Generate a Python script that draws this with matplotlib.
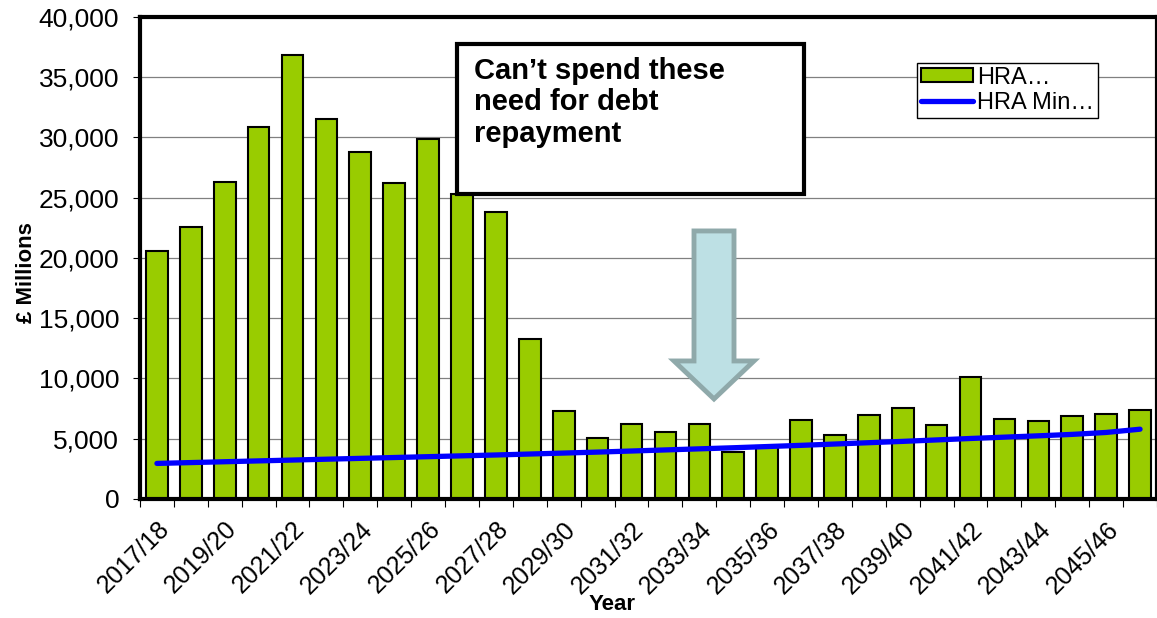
import matplotlib
matplotlib.use("Agg")
import matplotlib.pyplot as plt
from matplotlib.patches import Rectangle, Polygon, Patch
from matplotlib.lines import Line2D
import numpy as np

plt.rcParams['font.family'] = ['Liberation Sans', 'DejaVu Sans']

# Data
years = ["2017/18", "2018/19", "2019/20", "2020/21", "2021/22", "2022/23",
         "2023/24", "2024/25", "2025/26", "2026/27", "2027/28", "2028/29",
         "2029/30", "2030/31", "2031/32", "2032/33", "2033/34", "2034/35",
         "2035/36", "2036/37", "2037/38", "2038/39", "2039/40", "2040/41",
         "2041/42", "2042/43", "2043/44", "2044/45", "2045/46", "2046/47"]
hra_balance = [20550, 22600, 26300, 30900, 36800, 31500, 28800, 26200, 29900, 25300,
               23800, 13300, 7330, 5090, 6250, 5590, 6230, 3930, 4400, 6560,
               5320, 6980, 7560, 6120, 10160, 6640, 6500, 6920, 7090, 7390]
hra_minimum = [2950, 3020, 3090, 3160, 3230, 3300, 3370, 3440, 3510, 3580,
               3650, 3730, 3810, 3890, 3980, 4070, 4160, 4250, 4350, 4450,
               4560, 4670, 4780, 4900, 5020, 5130, 5240, 5360, 5520, 5790]
legend_labels = ["HRA\u2026", "HRA Min\u2026"]
note_text = "Can\u2019t spend these\nneed for debt\nrepayment"

BAR_GREEN = "#99CC00"
LINE_BLUE = "#0000FF"

fig = plt.figure(figsize=(11.57, 6.18), dpi=100)
ax = fig.add_axes([0.121, 0.1926, 0.879, 0.78])

x = np.arange(len(years))
ax.bar(x, hra_balance, width=0.64, color=BAR_GREEN, edgecolor="black",
       linewidth=1.5, zorder=2)
ax.plot(x, hra_minimum, color=LINE_BLUE, linewidth=3.8, solid_capstyle="round",
        zorder=3)

ax.set_xlim(-0.5, len(years) - 0.5)
ax.set_ylim(0, 40000)
ax.set_yticks(np.arange(0, 40001, 5000))
ax.set_yticklabels([f"{v:,}" for v in range(0, 40001, 5000)], fontsize=19)
ax.yaxis.grid(True, color="#808080", linewidth=0.9, zorder=0)
ax.set_axisbelow(True)

# category labels every other year, tick marks between categories
ax.set_xticks(x[::2])
ax.set_xticklabels(years[::2], rotation=45, ha="right", va="top",
                   rotation_mode="anchor", fontsize=18)
ax.tick_params(axis="x", which="major", length=0, pad=13)
ax.set_xticks(np.arange(-0.5, len(years), 1.0), minor=True)
ax.tick_params(axis="x", which="minor", length=6, width=0.8, direction="out")
ax.tick_params(axis="y", length=5, width=0.8, direction="out", pad=10)

for s in ax.spines.values():
    s.set_linewidth(3)

ax.set_xlabel("Year", fontsize=16, fontweight="bold")
ax.xaxis.label.set_va("center")
ax.xaxis.set_label_coords(0.464, -0.218)
ax.set_ylabel("\u00a3 Millions", fontsize=16, fontweight="bold")
ax.yaxis.set_label_coords(-0.1015, 0.47)

# annotation box
def px(xp, yp):
    return ((xp - 140) / 1017.0, (499 - yp) / 482.0)

bx0, by0 = px(457, 194)
bx1, by1 = px(804, 44)
ax.add_patch(Rectangle((bx0, by0), bx1 - bx0, by1 - by0, transform=ax.transAxes,
                       facecolor="white", edgecolor="black", linewidth=3,
                       zorder=5, clip_on=False))
tx, ty = px(474, 57)
ax.text(tx, ty, note_text, transform=ax.transAxes, ha="left", va="top",
        fontsize=21, fontweight="bold", linespacing=1.15, zorder=6)

# down arrow
arrow_pts = [px(694, 231), px(734, 231), px(734, 361), px(754, 361),
             px(714, 399), px(674, 361), px(694, 361)]
ax.add_patch(Polygon(arrow_pts, closed=True, transform=ax.transAxes,
                     facecolor="#BDE0E4", edgecolor="#8FA9AA", linewidth=3.5,
                     joinstyle="miter", zorder=5))

handles = [Patch(facecolor=BAR_GREEN, edgecolor="black", linewidth=1.5),
           Line2D([0], [0], color=LINE_BLUE, linewidth=3.8, solid_capstyle="round")]
leg = fig.legend(handles, legend_labels, loc="upper right",
                 bbox_to_anchor=(1098 / 1157, 1 - 63 / 618), fontsize=17,
                 frameon=True, fancybox=False, framealpha=1, edgecolor="black",
                 handlelength=2.2, handleheight=0.55, handletextpad=0.2,
                 labelspacing=0.15, borderpad=0.15, borderaxespad=0)
leg.get_frame().set_linewidth(1)
leg.set_zorder(10)

fig.savefig("out.png", dpi=100)
